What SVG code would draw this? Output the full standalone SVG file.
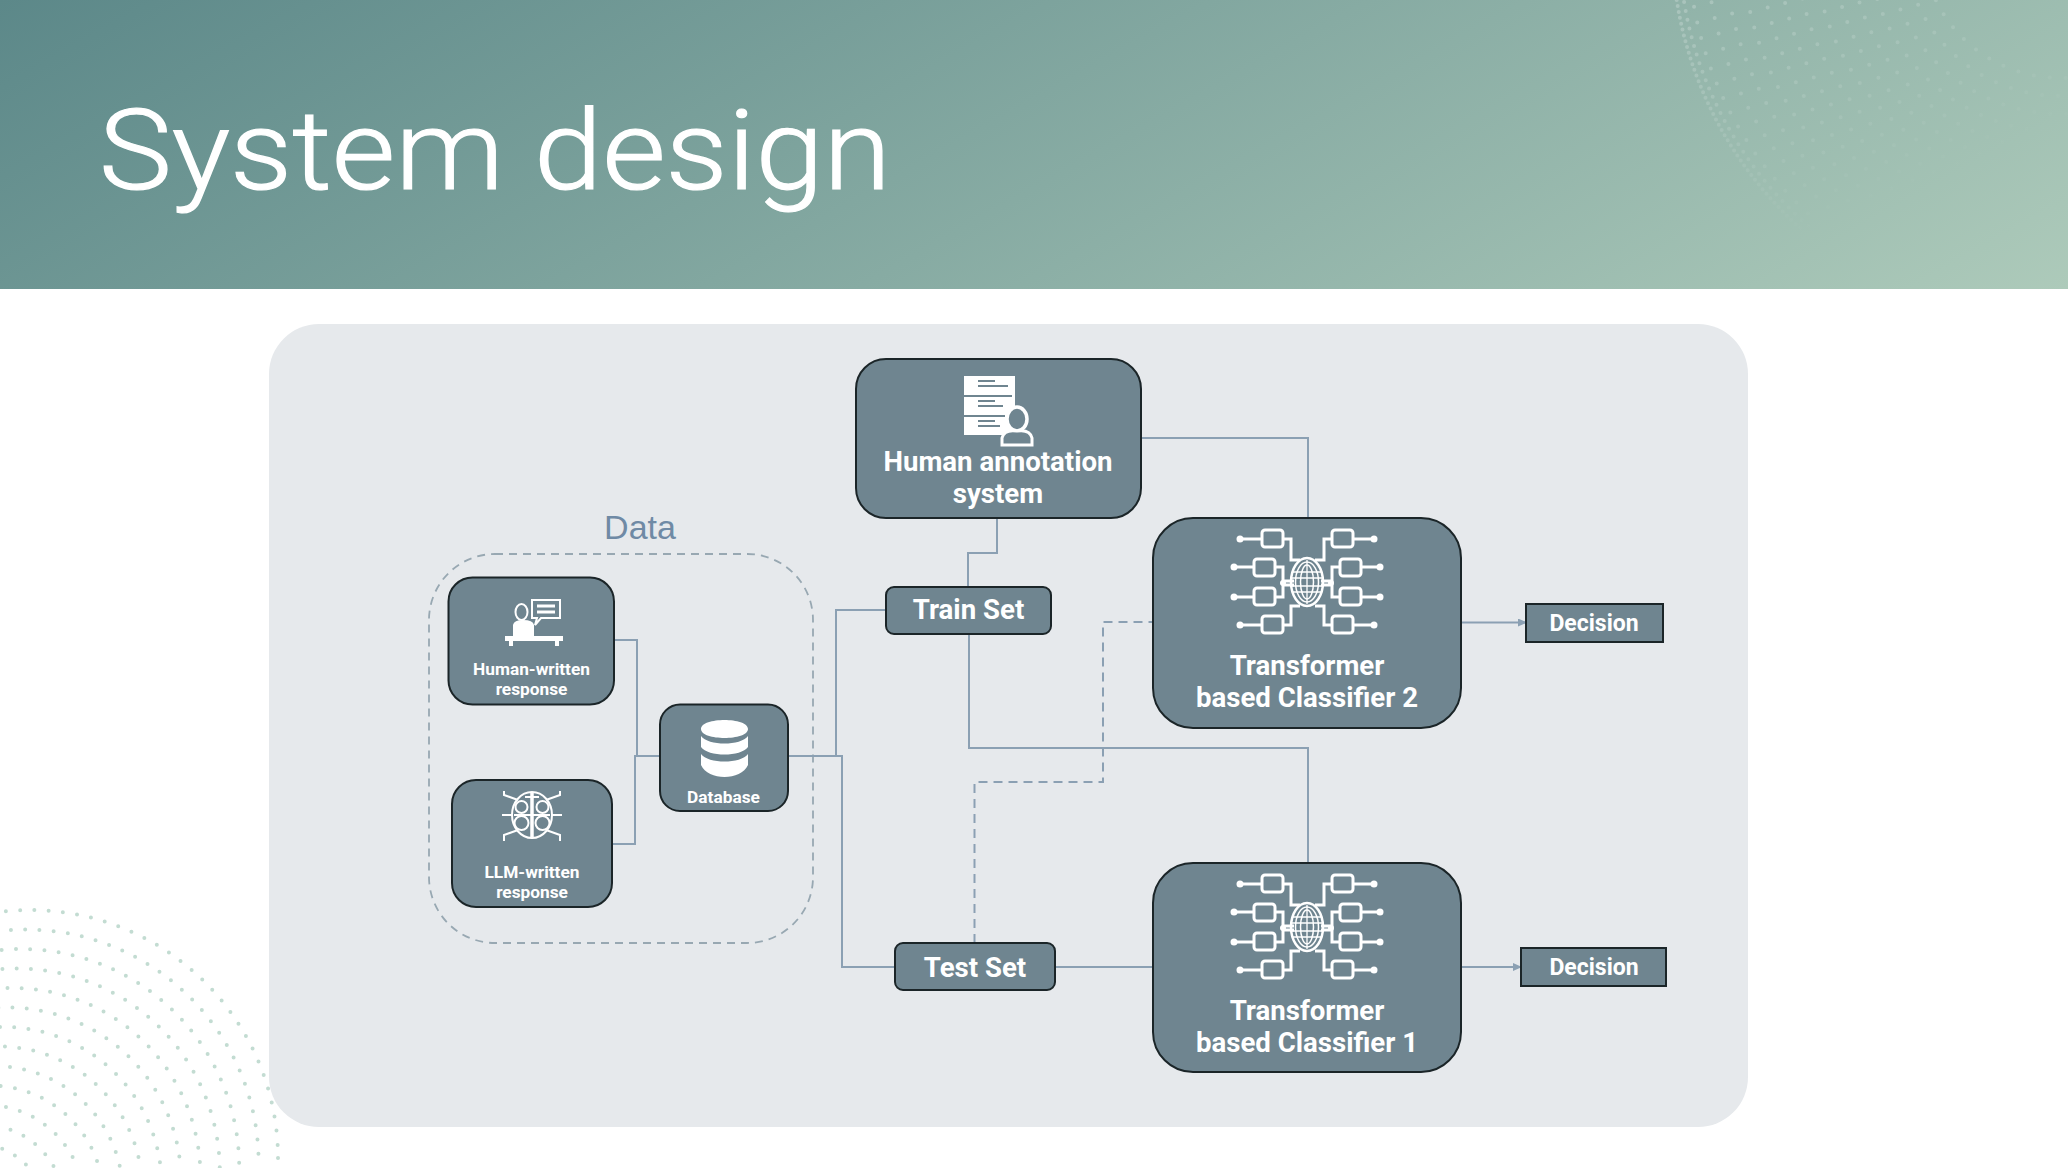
<svg xmlns="http://www.w3.org/2000/svg" xmlns:xlink="http://www.w3.org/1999/xlink" width="2068" height="1168" viewBox="0 0 2068 1168">
<style>
.n{fill:#6f8590;stroke:#1b2528;stroke-width:2}
.t{font-family:Roboto,"Liberation Sans",Arial,sans-serif;font-weight:700;fill:#fff;text-anchor:middle}
.l{font-size:27.600px}.s{font-size:17.300px}.d{font-size:23px}
.c{fill:none;stroke:#8ba0b3;stroke-width:2}
.da{stroke-dasharray:9 6}
.i{fill:none;stroke:#fff;stroke-width:3}
.f{fill:#fff;stroke:none}
.dot{fill:none;stroke:#c3dcd2;stroke-width:4;stroke-linecap:round;stroke-dasharray:0 14.3}
.dt{fill:none;stroke:url(#fade);stroke-width:4;stroke-linecap:round;stroke-dasharray:0 16}
</style>
<defs>
<linearGradient id="bg" gradientUnits="userSpaceOnUse" x1="0" y1="0" x2="618" y2="1102"><stop offset="0" stop-color="#5c8889"/><stop offset="1" stop-color="#adcaba"/></linearGradient>
<linearGradient id="fade" gradientUnits="userSpaceOnUse" x1="1700" y1="0" x2="1800" y2="240"><stop offset="0" stop-color="#fff" stop-opacity=".22"/><stop offset="1" stop-color="#fff" stop-opacity="0"/></linearGradient>
<marker id="arr" markerWidth="10" markerHeight="10" refX="8" refY="4" orient="auto" markerUnits="userSpaceOnUse"><path d="M0 0L9 4L0 8z" fill="#8ba0b3"/></marker>
<g id="net">
<g class="i">
<rect x="-45" y="-51" width="21" height="17" rx="3"/><rect x="-53" y="-22" width="21" height="17" rx="3"/><rect x="-53" y="7" width="21" height="17" rx="3"/><rect x="-45" y="35" width="21" height="17" rx="3"/>
<rect x="25" y="-51" width="21" height="17" rx="3"/><rect x="33" y="-22" width="21" height="17" rx="3"/><rect x="33" y="7" width="21" height="17" rx="3"/><rect x="25" y="35" width="21" height="17" rx="3"/>
<path d="M-66-42H-45M-72-14H-53M-72 16H-53M-66 44H-45M46-42H66M54-14H72M54 16H72M46 44H66"/>
<path d="M-24-42H-16V-21H-7M-32-14H-24V0H-13M-32 16H-24V4H-13M-24 44H-16V25H-7M25-42H17V-21H8M33-14H25V0H14M33 16H25V4H14M25 44H17V25H8"/>
<ellipse cx="0" cy="1" rx="16" ry="24" stroke-width="2.500"/><ellipse cx="0" cy="1" rx="11.500" ry="20" stroke-width="1.500"/><ellipse cx="0" cy="1" rx="6.500" ry="17" stroke-width="1.500"/><path d="M0-21V23M-14-9H14M-15-3H15M-15 5H15M-14 11H14" stroke-width="1.300"/>
</g>
<g class="f"><circle cx="-67" cy="-42" r="3.500"/><circle cx="-73" cy="-14" r="3.500"/><circle cx="-73" cy="16" r="3.500"/><circle cx="-67" cy="44" r="3.500"/><circle cx="67" cy="-42" r="3.500"/><circle cx="73" cy="-14" r="3.500"/><circle cx="73" cy="16" r="3.500"/><circle cx="67" cy="44" r="3.500"/><circle cx="-24" cy="2" r="3"/><circle cx="24" cy="2" r="3"/></g>
</g>
</defs>

<rect width="2068" height="1168" fill="#fff"/>
<g id="dots-bottom">
<circle class="dot" cx="30" cy="1158" r="248"/><circle class="dot" cx="25.600" cy="1162.500" r="233" stroke-dashoffset="4"/><circle class="dot" cx="21.200" cy="1167" r="218" stroke-dashoffset="8"/><circle class="dot" cx="16.800" cy="1171.500" r="203" stroke-dashoffset="2"/><circle class="dot" cx="12.400" cy="1176" r="188" stroke-dashoffset="6"/><circle class="dot" cx="8" cy="1180.500" r="173" stroke-dashoffset="10"/><circle class="dot" cx="3.600" cy="1185" r="158" stroke-dashoffset="3"/><circle class="dot" cx="-0.800" cy="1189.500" r="143" stroke-dashoffset="7"/><circle class="dot" cx="-5.200" cy="1194" r="128" stroke-dashoffset="11"/><circle class="dot" cx="-9.600" cy="1198.500" r="113" stroke-dashoffset="1"/><circle class="dot" cx="-14" cy="1203" r="98" stroke-dashoffset="5"/><circle class="dot" cx="-18.400" cy="1207.500" r="83" stroke-dashoffset="9"/><circle class="dot" cx="-22.800" cy="1212" r="68" stroke-dashoffset="12"/><circle class="dot" cx="-27.200" cy="1216.500" r="53" stroke-dashoffset="3"/>
</g>
<rect id="banner" width="2068" height="289" fill="url(#bg)"/>
<g id="dots-top">
<circle class="dt" cx="2060" cy="-60" r="388" style="stroke-dasharray:0 6"/><circle class="dt" cx="2060" cy="-60" r="381" style="stroke-dasharray:0 9"/><circle class="dt" cx="2060" cy="-60" r="372" stroke-dashoffset="3"/><circle class="dt" cx="2060" cy="-60" r="354" stroke-dashoffset="7"/><circle class="dt" cx="2060" cy="-60" r="336" stroke-dashoffset="11"/><circle class="dt" cx="2060" cy="-60" r="318" stroke-dashoffset="2"/><circle class="dt" cx="2060" cy="-60" r="300" stroke-dashoffset="6"/><circle class="dt" cx="2060" cy="-60" r="282" stroke-dashoffset="10"/><circle class="dt" cx="2060" cy="-60" r="264" stroke-dashoffset="14"/><circle class="dt" cx="2060" cy="-60" r="246" stroke-dashoffset="4"/><circle class="dt" cx="2060" cy="-60" r="228" stroke-dashoffset="8"/><circle class="dt" cx="2060" cy="-60" r="210" stroke-dashoffset="12"/><circle class="dt" cx="2060" cy="-60" r="192" stroke-dashoffset="1"/><circle class="dt" cx="2060" cy="-60" r="174" stroke-dashoffset="5"/><circle class="dt" cx="2060" cy="-60" r="156" stroke-dashoffset="9"/><circle class="dt" cx="2060" cy="-60" r="138" stroke-dashoffset="13"/>
</g>
<text id="title" x="99" y="189" font-family="Roboto,'Liberation Sans',sans-serif" font-weight="300" font-size="111" fill="#fff" stroke="#fff" stroke-width="1.200" textLength="792" lengthAdjust="spacingAndGlyphs">System design</text>
<rect id="panel" x="269" y="324" width="1479" height="803" rx="50" fill="#e6e9ec"/>

<g id="data-group">
<rect x="429" y="554" width="384" height="389" rx="66" fill="none" stroke="#98a8b2" stroke-width="1.800" stroke-dasharray="8 6"/>
<text x="640" y="539" font-family="'Liberation Sans',Arial,sans-serif" font-size="34" fill="#6f8aa5" text-anchor="middle">Data</text>
</g>

<g id="connectors">
<path class="c" d="M614 640H637V756H660"/>
<path class="c" d="M612 844H635V756H660"/>
<path class="c" d="M788 756H842V967H894"/>
<path class="c" d="M836 756V610H886"/>
<path class="c" d="M1141 438H1308V518"/>
<path class="c" d="M997 518V553H968V587"/>
<path class="c" d="M969 634V748H1308V863"/>
<path class="c da" d="M974.500 943V782H1103V622H1153"/>
<path class="c" d="M1055 967H1153"/>
<path class="c" d="M1461 622.500H1526" marker-end="url(#arr)"/>
<path class="c" d="M1461 967H1521" marker-end="url(#arr)"/>
</g>

<g id="human-written">
<rect class="n" x="448.500" y="577.500" width="165.500" height="127" rx="24"/>
<g class="i" style="stroke-width:2"><ellipse cx="521.500" cy="612" rx="6" ry="8"/><path d="M532 600H560V618H541L535 625L537 618H532Z"/><path d="M537 606H555M537 612H555" stroke-width="3"/></g>
<path class="f" d="M513 636V625Q514 620 523 620Q533 620 534 625V636ZM505 636H563V641H559V646H555V641H513V646H509V641H505Z"/>
<text class="t s" x="531.500" y="675">Human-written</text><text class="t s" x="531.500" y="695">response</text>
</g>

<g id="llm-written">
<rect class="n" x="452" y="780" width="160" height="127" rx="24"/>
<g class="i" style="stroke-width:2"><ellipse cx="532" cy="815" rx="20" ry="23"/><circle cx="521.500" cy="807" r="6"/><circle cx="542.500" cy="807" r="6"/><circle cx="521.500" cy="823" r="7"/><circle cx="542.500" cy="823" r="7"/><path d="M532 792V838" style="stroke-width:3.500"/><path d="M525 797H539M514 815H550"/><path d="M518 800L504 795V791M546 800L560 795V791M512 815H502M552 815H562M518 830L504 835V841M546 830L560 835V841"/></g>
<text class="t s" x="532" y="878">LLM-written</text><text class="t s" x="532" y="898">response</text>
</g>

<g id="database">
<rect class="n" x="660" y="704.500" width="128" height="106.500" rx="20"/>
<path class="f" d="M701 729C701 717 748 717 748 729C748 741 701 741 701 729ZM701 736C708 746 741 746 748 736V747C741 757 708 757 701 747ZM701 754C708 764 741 764 748 754V765C741 781 708 781 701 765Z"/>
<text class="t s" x="723.500" y="803">Database</text>
</g>

<g id="annotation">
<rect class="n" x="856" y="359" width="285" height="159" rx="30"/>
<path class="f" d="M964 376H1015V435H964Z"/>
<g fill="none" stroke="#6f8590" stroke-width="2"><path d="M964 396H1012M964 416H1005M978 381H995M978 401H995M978 421H995M978 386H1008M978 406H1003M978 426H1000"/></g>
<ellipse cx="1017" cy="419" rx="10" ry="12" fill="#6f8590" stroke="#fff" stroke-width="3.500"/>
<path d="M1002 445V438Q1004 429 1017 431Q1030 429 1032 438V445Z" fill="#6f8590" stroke="#fff" stroke-width="3"/>
<text class="t l" x="998" y="471">Human annotation</text><text class="t l" x="998" y="503">system</text>
</g>

<g id="train-set"><rect class="n" x="886" y="587" width="165" height="47" rx="8"/><text class="t l" x="968.500" y="618.500">Train Set</text></g>
<g id="test-set"><rect class="n" x="895" y="943" width="160" height="47" rx="8"/><text class="t l" x="975" y="976.500">Test Set</text></g>

<g id="classifier-2">
<rect class="n" x="1153" y="518" width="308" height="210" rx="40"/>
<use xlink:href="#net" href="#net" x="1307" y="581"/>
<text class="t l" x="1307" y="675">Transformer</text><text class="t l" x="1307" y="707">based Classifier 2</text>
</g>
<g id="classifier-1">
<rect class="n" x="1153" y="863" width="308" height="209" rx="40"/>
<use xlink:href="#net" href="#net" x="1307" y="926"/>
<text class="t l" x="1307" y="1020">Transformer</text><text class="t l" x="1307" y="1052">based Classifier 1</text>
</g>
<g id="decision-2"><rect class="n" x="1526" y="604" width="137" height="38"/><text class="t d" x="1594" y="631">Decision</text></g>
<g id="decision-1"><rect class="n" x="1521" y="948" width="145" height="38"/><text class="t d" x="1594" y="975">Decision</text></g>
</svg>
